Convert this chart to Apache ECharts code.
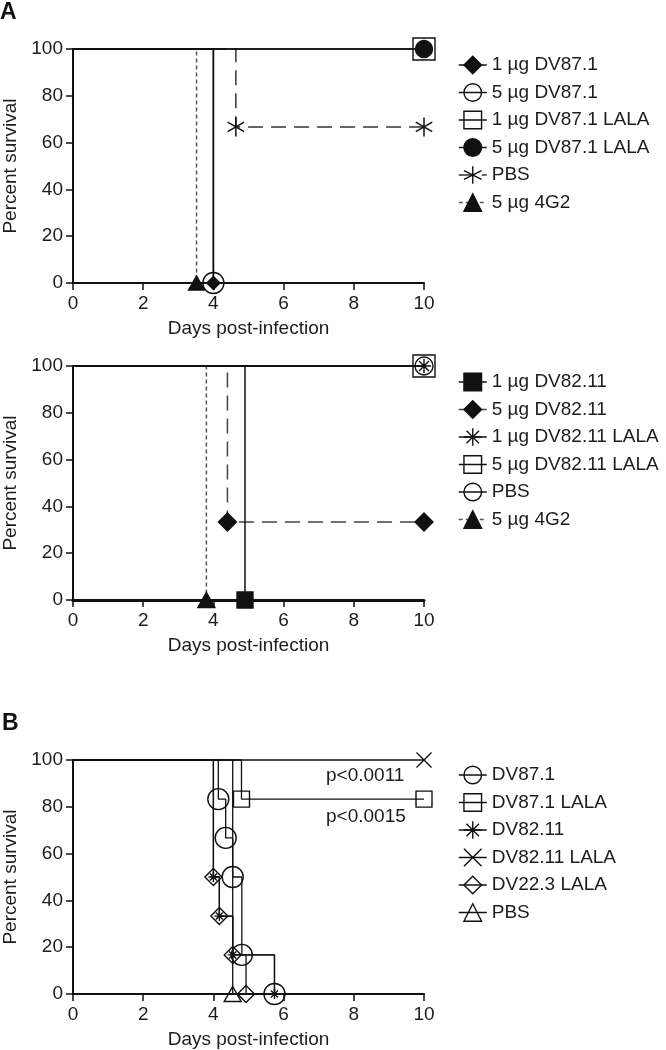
<!DOCTYPE html>
<html><head><meta charset="utf-8">
<script src="https://cdn.jsdelivr.net/npm/echarts@6/dist/echarts.min.js"></script>
<style>
html,body{margin:0;padding:0;background:#fff;width:666px;height:1050px;overflow:hidden;}
.c{position:absolute;left:0;width:666px;}
</style></head><body>
<div id="c1" class="c" style="top:0;height:345px"></div>
<div id="c2" class="c" style="top:345px;height:325px"></div>
<div id="c3" class="c" style="top:670px;height:380px"></div>
<script>
// ================= DATA =================
const xTicks = [0, 2, 4, 6, 8, 10];
const yTicks = [0, 20, 40, 60, 80, 100];
const xAxisTitle = 'Days post-infection';
const yAxisTitle = 'Percent survival';

// Panel A, top (DV87.1) — [day, percent survival] step points
const a1Names = ['1 µg DV87.1', '5 µg DV87.1', '1 µg DV87.1 LALA', '5 µg DV87.1 LALA', 'PBS', '5 µg 4G2'];
const a1_DV871_1ug = [[0, 100], [4.0, 0]];
const a1_DV871_5ug = [[0, 100], [4.0, 0]];
const a1_DV871LALA_1ug = [[0, 100], [10, 100]];
const a1_DV871LALA_5ug = [[0, 100], [10, 100]];
const a1_PBS = [[0, 100], [4.64, 66.7], [10, 66.7]];
const a1_4G2 = [[0, 100], [3.52, 0]];

// Panel A, bottom (DV82.11)
const a2Names = ['1 µg DV82.11', '5 µg DV82.11', '1 µg DV82.11 LALA', '5 µg DV82.11 LALA', 'PBS', '5 µg 4G2'];
const a2_DV8211_1ug = [[0, 100], [4.9, 0]];
const a2_DV8211_5ug = [[0, 100], [4.4, 33.3], [10, 33.3]];
const a2_DV8211LALA_1ug = [[0, 100], [10, 100]];
const a2_DV8211LALA_5ug = [[0, 100], [10, 100]];
const a2_PBS = [[0, 100], [10, 100]];
const a2_4G2 = [[0, 100], [3.8, 0]];

// Panel B
const bNames = ['DV87.1', 'DV87.1 LALA', 'DV82.11', 'DV82.11 LALA', 'DV22.3 LALA', 'PBS'];
const b_DV871 = [[0, 100], [4.14, 83.3], [4.35, 66.7], [4.55, 50], [4.81, 16.7], [5.74, 0]];
const b_DV871LALA = [[0, 100], [4.8, 83.3], [10, 83.3]];
const b_DV8211 = [[0, 100], [4.0, 50], [4.17, 33.3], [4.55, 16.7], [5.74, 0]];
const b_DV8211LALA = [[0, 100], [10, 100]];
const b_DV223LALA = [[0, 100], [4.0, 50], [4.17, 33.3], [4.55, 16.7], [4.93, 0]];
const b_PBS = [[0, 100], [4.55, 0]];
const bPvalues = ['p<0.0011', 'p<0.0015'];
const panelLabels = ['A', 'B'];

// ================= STYLE =================
const FONT = '"Liberation Sans", Arial, Helvetica, sans-serif';
const INK = '#111';
const TXT = '#1c1c1c';
const NONE = 'rgba(0,0,0,0)';
const ASTER6 = 'path://M0,-10L0,10M-8.66,-5L8.66,5M-8.66,5L8.66,-5';
const ASTER8 = 'path://M0,-10L0,10M-10,0L10,0M-7.07,-7.07L7.07,7.07M-7.07,7.07L7.07,-7.07';
const XMARK = 'path://M-10,-10L10,10M-10,10L10,-10';
const DOT = [4, 3];
const DASH = [15, 8];

function ser(name, pts, o) {
  return {
    type: 'line', name: name, step: 'end', clip: false, animation: false,
    data: pts.map((p, i) => i === 0 ? { value: p, symbol: 'none' } : { value: p }),
    symbol: o.symbol, symbolSize: o.size, symbolKeepAspect: true, showSymbol: true,
    itemStyle: { color: o.fill, borderColor: INK, borderWidth: o.bw || 1.4 },
    lineStyle: { color: o.lc || INK, width: o.lw || 1.5, type: o.lt || 'solid' },
    z: o.z || 2,
    emphasis: { disabled: true }, silent: true
  };
}

function base(gridTop, xLineW, legendTop, names) {
  return {
    animation: false,
    backgroundColor: 'rgba(0,0,0,0)',
    textStyle: { fontFamily: FONT },
    grid: { left: 73, top: gridTop, width: 351, height: 234, outerBoundsMode: 'none' },
    xAxis: {
      type: 'value', min: xTicks[0], max: xTicks[xTicks.length - 1], interval: xTicks[1] - xTicks[0],
      name: xAxisTitle, nameLocation: 'middle', nameGap: 36,
      nameTextStyle: { fontSize: 19, color: TXT, fontFamily: FONT },
      axisLine: { show: true, onZero: false, lineStyle: { color: INK, width: xLineW } },
      axisTick: { show: true, inside: false, length: 7, lineStyle: { color: INK, width: 1.5 } },
      axisLabel: { fontSize: 19, color: TXT, margin: 11, fontFamily: FONT },
      splitLine: { show: false }
    },
    yAxis: {
      type: 'value', min: yTicks[0], max: yTicks[yTicks.length - 1], interval: yTicks[1] - yTicks[0],
      name: yAxisTitle, nameLocation: 'middle', nameGap: 52,
      nameTextStyle: { fontSize: 19, color: TXT, fontFamily: FONT },
      axisLine: { show: true, onZero: false, lineStyle: { color: INK, width: 2 } },
      axisTick: { show: true, inside: false, length: 7, lineStyle: { color: INK, width: 1.5 } },
      axisLabel: { fontSize: 19, color: TXT, margin: 10, fontFamily: FONT },
      splitLine: { show: false }
    },
    legend: {
      orient: 'vertical', left: 458, top: legendTop, padding: 0,
      itemWidth: 28, itemHeight: 22, itemGap: 8.5,
      data: names, selectedMode: false,
      textStyle: { fontSize: 19, color: TXT, fontFamily: FONT },
      itemStyle: { borderWidth: 1.4 },
      lineStyle: { width: 1.5 }
    }
  };
}

// ---------- Chart A1 ----------
const o1 = base(49, 2, 55.5, a1Names);
o1.series = [
  ser(a1Names[5], a1_4G2, { symbol: 'triangle', size: [16, 14], fill: INK, lt: DOT, lc: '#555', z: 1 }),
  ser(a1Names[4], a1_PBS, { symbol: ASTER6, size: 19, fill: NONE, lt: DASH, lc: '#333', bw: 1.5, z: 1 }),
  ser(a1Names[0], a1_DV871_1ug, { symbol: 'diamond', size: 13, fill: INK, z: 4 }),
  ser(a1Names[1], a1_DV871_5ug, { symbol: 'circle', size: 21, fill: NONE, z: 3 }),
  ser(a1Names[2], a1_DV871LALA_1ug, { symbol: 'rect', size: 22, fill: NONE, z: 3 }),
  ser(a1Names[3], a1_DV871LALA_5ug, { symbol: 'circle', size: 17, fill: INK, z: 4 })
];
o1.graphic = [{ type: 'text', left: 0, top: 1, style: { text: panelLabels[0], font: 'bold 23px ' + FONT, fill: INK } }];

// ---------- Chart A2 ----------
const o2 = base(21, 3, 27.5, a2Names);
o2.series = [
  ser(a2Names[5], a2_4G2, { symbol: 'triangle', size: [17, 15], fill: INK, lt: DOT, lc: '#555', z: 1 }),
  ser(a2Names[1], a2_DV8211_5ug, { symbol: 'diamond', size: 18, fill: INK, lt: DASH, lc: '#444', z: 1 }),
  ser(a2Names[0], a2_DV8211_1ug, { symbol: 'rect', size: 16, fill: INK, z: 4 }),
  ser(a2Names[3], a2_DV8211LALA_5ug, { symbol: 'rect', size: 22, fill: NONE, z: 3 }),
  ser(a2Names[4], a2_PBS, { symbol: 'circle', size: 18, fill: NONE, z: 3 }),
  ser(a2Names[2], a2_DV8211LALA_1ug, { symbol: ASTER8, size: 14, fill: NONE, z: 4 })
];

// ---------- Chart B ----------
const o3 = base(90, 2, 95.5, bNames);
o3.series = [
  ser(bNames[0], b_DV871, { symbol: 'circle', size: 21, fill: NONE, lw: 1.3 }),
  ser(bNames[1], b_DV871LALA, { symbol: 'rect', size: 16, fill: NONE, lw: 1.3 }),
  ser(bNames[2], b_DV8211, { symbol: ASTER8, size: 10, fill: NONE, lw: 1.3 }),
  ser(bNames[3], b_DV8211LALA, { symbol: XMARK, size: 15, fill: NONE, lw: 1.3 }),
  ser(bNames[4], b_DV223LALA, { symbol: 'diamond', size: 17, fill: NONE, lw: 1.3 }),
  ser(bNames[5], b_PBS, { symbol: 'triangle', size: [17, 15], fill: NONE, lw: 1.3 })
];
o3.graphic = [
  { type: 'text', left: 2, top: 42, style: { text: panelLabels[1], font: 'bold 23px ' + FONT, fill: INK } },
  { type: 'text', left: 326, top: 96, style: { text: bPvalues[0], font: '19px ' + FONT, fill: TXT } },
  { type: 'text', left: 326, top: 137, style: { text: bPvalues[1], font: '19px ' + FONT, fill: TXT } }
];

echarts.init(document.getElementById('c1'), null, { renderer: 'canvas' }).setOption(o1);
echarts.init(document.getElementById('c2'), null, { renderer: 'canvas' }).setOption(o2);
echarts.init(document.getElementById('c3'), null, { renderer: 'canvas' }).setOption(o3);
</script>
</body></html>
